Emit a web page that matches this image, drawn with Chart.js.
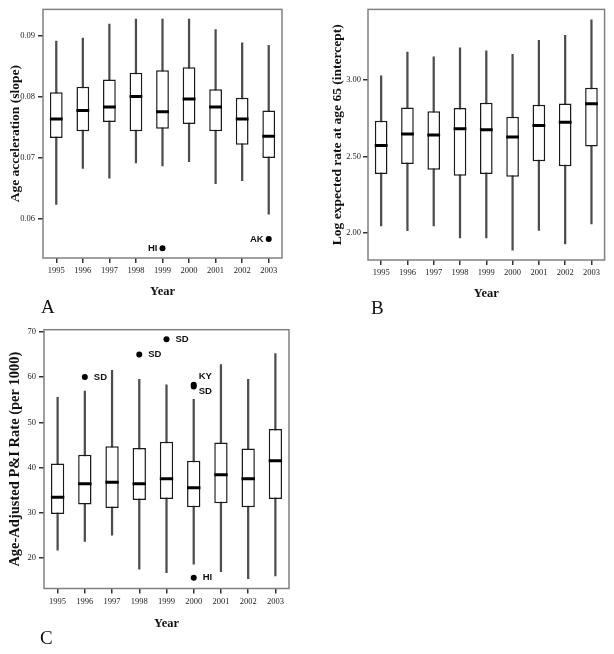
<!DOCTYPE html>
<html><head><meta charset="utf-8">
<script src="https://cdn.jsdelivr.net/npm/chart.js@4"></script>
<style>
html,body{margin:0;padding:0;background:#fff;}
#wrap{position:relative;width:614px;height:654px;overflow:hidden;background:#fff;}
canvas{position:absolute;}
.lbl{position:absolute;font-family:"Liberation Serif",serif;font-size:19px;color:#111;line-height:1;}
</style></head><body>
<div id="wrap">
<canvas id="cA" width="305" height="320" style="left:0;top:0"></canvas>
<canvas id="cB" width="309" height="320" style="left:305px;top:0"></canvas>
<canvas id="cC" width="305" height="334" style="left:0;top:320px"></canvas>
<div class="lbl" style="left:41px;top:297px">A</div>
<div class="lbl" style="left:371px;top:298px">B</div>
<div class="lbl" style="left:40px;top:628px">C</div>
</div>
<script>
// ---------- data ----------
const years = ['1995','1996','1997','1998','1999','2000','2001','2002','2003'];

// Panel A: Age acceleration (slope)
const slopeMin    = [0.0623,0.0682,0.0666,0.0691,0.0686,0.0693,0.0657,0.0662,0.0607];
const slopeQ1     = [0.0732,0.0743,0.0758,0.0743,0.0747,0.0755,0.0743,0.0721,0.0699];
const slopeMedian = [0.0763,0.0777,0.0783,0.0800,0.0775,0.0796,0.0783,0.0763,0.0735];
const slopeQ3     = [0.0807,0.0816,0.0828,0.0839,0.0843,0.0848,0.0812,0.0798,0.0777];
const slopeMax    = [0.0891,0.0896,0.0919,0.0927,0.0927,0.0927,0.0910,0.0888,0.0884];
const slopeOutlierYears  = ['1999','2003'];
const slopeOutlierValues = [0.0551,0.0566];
const slopeOutlierLabels = ['HI','AK'];
const slopeTickValues = [0.06,0.07,0.08,0.09];
const slopeTickLabels = ['0.06','0.07','0.08','0.09'];

// Panel B: Log expected rate at age 65 (intercept)
const interceptMin    = [2.045,2.013,2.045,1.966,1.966,1.886,2.015,1.927,2.058];
const interceptQ1     = [2.384,2.450,2.412,2.373,2.384,2.366,2.468,2.435,2.565];
const interceptMedian = [2.571,2.647,2.640,2.681,2.675,2.627,2.703,2.724,2.845];
const interceptQ3     = [2.733,2.821,2.795,2.817,2.851,2.759,2.838,2.847,2.950];
const interceptMax    = [3.028,3.183,3.153,3.211,3.192,3.168,3.261,3.293,3.394];
const interceptTickValues = [2.0,2.5,3.0];
const interceptTickLabels = ['2.00','2.50','3.00'];

// Panel C: Age-Adjusted P&I Rate (per 1000)
const rateMin    = [21.7,23.6,25.0,17.5,16.7,18.6,16.9,15.4,16.0];
const rateQ1     = [29.7,31.8,31.0,32.8,33.0,31.2,32.1,31.2,33.0];
const rateMedian = [33.4,36.4,36.7,36.4,37.5,35.5,38.4,37.5,41.5];
const rateQ3     = [40.9,42.8,44.7,44.3,45.7,41.5,45.5,44.2,48.5];
const rateMax    = [55.5,56.9,61.5,59.5,58.3,55.1,62.8,59.5,65.2];
const rateOutlierYears  = ['1996','1998','1999','2000','2000','2000'];
const rateOutlierValues = [60.0,65.0,68.4,58.3,57.9,15.6];
const rateOutlierLabels = ['SD','SD','SD','KY','SD','HI'];
const rateTickValues = [20,30,40,50,60,70];
const rateTickLabels = ['20','30','40','50','60','70'];

// ---------- plugins ----------
const framePlugin = {
  id: 'frame',
  afterDatasetsDraw(chart) {
    const {ctx, chartArea: a} = chart;
    ctx.save();
    ctx.strokeStyle = '#808080';
    ctx.lineWidth = 1.5;
    ctx.strokeRect(a.left, a.top, a.right - a.left, a.bottom - a.top);
    ctx.restore();
  }
};
const outlierLabelPlugin = {
  id: 'outlierLabels',
  afterDatasetsDraw(chart) {
    const ctx = chart.ctx;
    chart.data.datasets.forEach((ds, di) => {
      if (!ds.outlierLabels) return;
      const meta = chart.getDatasetMeta(di);
      ctx.save();
      ctx.font = 'bold 9.5px "Liberation Sans", Arial, sans-serif';
      ctx.fillStyle = '#111';
      ctx.textBaseline = 'middle';
      meta.data.forEach((pt, i) => {
        const off = ds.labelOffsets[i];
        ctx.textAlign = off[0] < 0 ? 'right' : 'left';
        ctx.fillText(ds.outlierLabels[i], pt.x + off[0], pt.y + off[1]);
      });
      ctx.restore();
    });
  }
};

function boxChart(id, o) {
  const datasets = [
    { type: 'line', data: o.median, showLine: false, pointStyle: 'line',
      pointRadius: o.halfBox, pointBorderWidth: 3, pointBorderColor: '#000',
      pointBackgroundColor: '#000', order: 0 },
    { type: 'bar', data: years.map((_, i) => [o.q1[i], o.q3[i]]), grouped: false,
      barPercentage: o.boxPct, categoryPercentage: 1, backgroundColor: '#fff',
      borderColor: '#1a1a1a', borderWidth: 1.5, borderSkipped: false, order: 1 },
    { type: 'bar', data: years.map((_, i) => [o.min[i], o.max[i]]), grouped: false,
      barThickness: 1.6, backgroundColor: '#4d4d4d', borderWidth: 0, order: 2 }
  ];
  if (o.outYears) {
    datasets.push({ type: 'line', showLine: false,
      data: o.outYears.map((y, i) => ({x: y, y: o.outValues[i]})),
      pointRadius: 3, pointBackgroundColor: '#000', pointBorderColor: '#000', pointBorderWidth: 0,
      outlierLabels: o.outLabels, labelOffsets: o.labelOffsets, order: 0 });
  }
  return new Chart(document.getElementById(id), {
    type: 'bar',
    data: { labels: years, datasets },
    plugins: [framePlugin, outlierLabelPlugin],
    options: {
      responsive: false, animation: false, events: [],
      layout: { padding: o.padding },
      plugins: { legend: { display: false }, tooltip: { enabled: false } },
      scales: {
        x: {
          offset: true,
          grid: { display: true, offset: false, drawOnChartArea: false, drawTicks: true, tickLength: 5, color: '#333', lineWidth: 1.5 },
          border: { display: false },
          ticks: { color: '#222', padding: 3, font: { family: '"Liberation Serif", serif', size: 8.5 }, maxRotation: 0 },
          title: { display: true, text: 'Year', color: '#111',
            font: { family: '"Liberation Serif", serif', size: 12.5, weight: 'bold' },
            padding: { top: 0, bottom: o.xTitlePad } },
          afterFit(s) { s.height = o.xHeight; }
        },
        y: {
          min: o.yMin, max: o.yMax,
          grid: { display: true, drawOnChartArea: false, drawTicks: true, tickLength: 5, color: '#333', lineWidth: 1.5 },
          border: { display: false },
          afterBuildTicks(s) { s.ticks = o.tickValues.map(v => ({ value: v })); },
          ticks: { color: '#222', padding: o.yTickPad, font: { family: '"Liberation Serif", serif', size: 8.5 },
            callback: (v, i) => o.tickLabels[i] },
          title: { display: true, text: o.yTitle, color: '#111',
            font: { family: '"Liberation Serif", serif', size: o.yTitleSize, weight: 'bold' },
            padding: { top: o.yTitlePad, bottom: 0 } },
          afterFit(s) { s.width = o.yWidth; }
        }
      }
    }
  });
}

boxChart('cA', {
  min: slopeMin, q1: slopeQ1, median: slopeMedian, q3: slopeQ3, max: slopeMax,
  outYears: slopeOutlierYears, outValues: slopeOutlierValues, outLabels: slopeOutlierLabels,
  labelOffsets: [[-5, 0], [-5, 0]],
  tickValues: slopeTickValues, tickLabels: slopeTickLabels,
  yMin: 0.0535, yMax: 0.0943, yTitle: 'Age acceleration (slope)', yTitleSize: 13.5,
  padding: { top: 6, right: 23, bottom: 0, left: 0 }, yWidth: 43, xHeight: 62,
  xTitlePad: 20.5, yTitlePad: 7, yTickPad: 3, boxPct: 0.48, halfBox: 6.4
});

boxChart('cB', {
  min: interceptMin, q1: interceptQ1, median: interceptMedian, q3: interceptQ3, max: interceptMax,
  tickValues: interceptTickValues, tickLabels: interceptTickLabels,
  yMin: 1.821, yMax: 3.463, yTitle: 'Log expected rate at age 65 (intercept)', yTitleSize: 13.5,
  padding: { top: 6, right: 7, bottom: 0, left: 0 }, yWidth: 63, xHeight: 60,
  xTitlePad: 18.5, yTitlePad: 24, yTickPad: 2, boxPct: 0.48, halfBox: 6.4
});

boxChart('cC', {
  min: rateMin, q1: rateQ1, median: rateMedian, q3: rateQ3, max: rateMax,
  outYears: rateOutlierYears, outValues: rateOutlierValues, outLabels: rateOutlierLabels,
  labelOffsets: [[9, 0], [9, 0], [9, 0], [5, -8], [5, 5], [9, 0]],
  tickValues: rateTickValues, tickLabels: rateTickLabels,
  yMin: 13.2, yMax: 70.5, yTitle: 'Age-Adjusted P&I Rate (per 1000)', yTitleSize: 14.5,
  padding: { top: 9, right: 16, bottom: 0, left: 0 }, yWidth: 44, xHeight: 65.5,
  xTitlePad: 23, yTitlePad: 7, yTickPad: 3, boxPct: 0.49, halfBox: 6.7
});
</script>
</body></html>
